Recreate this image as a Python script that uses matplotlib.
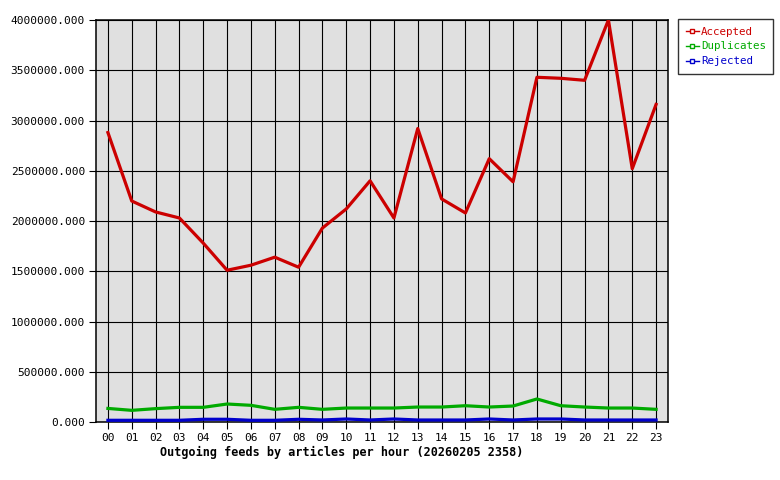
import matplotlib
matplotlib.use('Agg')
import matplotlib.pyplot as plt
from matplotlib.lines import Line2D

hours = ['00', '01', '02', '03', '04', '05', '06', '07', '08', '09', '10', '11',
         '12', '13', '14', '15', '16', '17', '18', '19', '20', '21', '22', '23']
accepted = [2880000, 2199000, 2090000, 2030000, 1780000, 1510000, 1560000, 1640000,
            1540000, 1930000, 2120000, 2400000, 2030000, 2920000, 2220000, 2080000,
            2620000, 2390000, 3430000, 3420000, 3400000, 4000000, 2520000, 3160000]
duplicates = [135000, 116000, 133000, 146000, 146000, 179000, 166000, 126000,
              146000, 126000, 139000, 139000, 139000, 149000, 149000, 162000,
              149000, 159000, 229000, 162000, 149000, 139000, 139000, 126000]
rejected = [17000, 17000, 17000, 17000, 27000, 27000, 17000, 17000,
            27000, 20000, 30000, 20000, 30000, 20000, 20000, 20000,
            30000, 20000, 30000, 30000, 20000, 20000, 20000, 20000]
yticks = [0, 500000, 1000000, 1500000, 2000000, 2500000, 3000000, 3500000, 4000000]
colors = ['#cc0000', '#00aa00', '#0000cc']

plt.rcParams['font.family'] = ['DejaVu Sans Mono']

fig = plt.figure(figsize=(7.8, 4.8), dpi=100)
ax = fig.add_axes([96/780, 58/480, 572/780, 402/480])
ax.set_facecolor('#e0e0e0')

x = list(range(len(hours)))
ax.plot(x, accepted, color=colors[0], lw=2.3, zorder=3)
ax.plot(x, duplicates, color=colors[1], lw=2.3, zorder=3)
ax.plot(x, rejected, color=colors[2], lw=2.3, zorder=3)

ax.set_xlim(-0.5, 23.5)
ax.set_ylim(0, 4000000)
ax.set_xticks(x)
ax.set_xticklabels(hours, fontsize=8)
ax.set_yticks(yticks)
ax.set_yticklabels(['%.3f' % v for v in yticks], fontsize=8)
ax.grid(True, color='black', lw=0.8, zorder=1)
ax.set_axisbelow(True)
ax.tick_params(direction='out', length=5, width=0.8, color='black', pad=3)
for s in ax.spines.values():
    s.set_linewidth(1.1)

fig.text(342/780, 1 - 452/480,
         'Outgoing feeds by articles per hour (20260205 2358)',
         fontsize=8.5, fontweight='bold', ha='center', va='center')

handles = [Line2D([], [], color=c, lw=1, marker='s', markersize=3,
                  markerfacecolor='white', markeredgecolor=c)
           for c in colors]
leg = fig.legend(handles, ['Accepted', 'Duplicates', 'Rejected'],
                 loc='upper left', bbox_to_anchor=(678/780, 1 - 19/480),
                 prop={'size': 7.8}, frameon=True, fancybox=False,
                 handlelength=1.2, handletextpad=0.2, borderpad=0.7,
                 labelspacing=0.45, borderaxespad=0)
leg.get_frame().set_edgecolor('black')
leg.get_frame().set_linewidth(1)
for t, c in zip(leg.get_texts(), colors):
    t.set_color(c)

fig.savefig('out.png', dpi=100, facecolor='white')
